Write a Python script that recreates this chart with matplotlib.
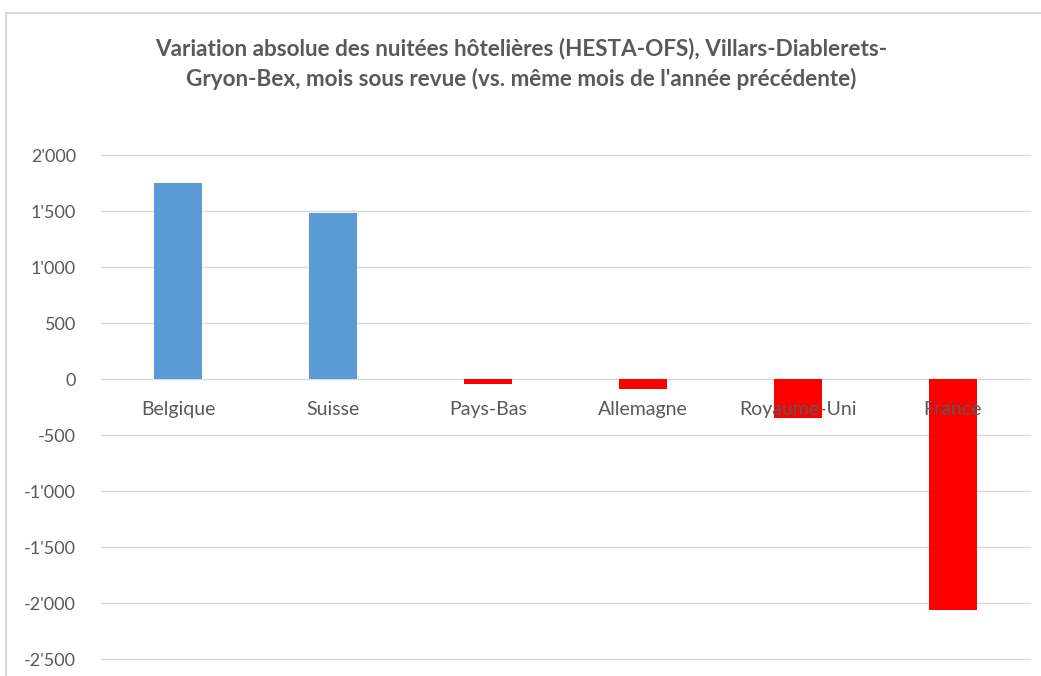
import matplotlib.pyplot as plt
import matplotlib.patches as plp
from matplotlib.ticker import FuncFormatter, MultipleLocator

# data
countries = ['Belgique', 'Suisse', 'Pays-Bas', 'Allemagne', 'Royaume-Uni', 'France']
variation = [1750, 1482, -45, -89, -348, -2062]

title = ("Variation absolue des nuitées hôtelières (HESTA-OFS), Villars-Diablerets-\n"
         "Gryon-Bex, mois sous revue (vs. même mois de l'année précédente)")

W, H = 1041, 676
fig = plt.figure(figsize=(W / 100, H / 100), dpi=100)
ax = fig.add_axes([101 / W, (H - 659) / H, (1030 - 101) / W, (659 - 155) / H])

colors = ['#5B9BD5' if v >= 0 else '#FF0000' for v in variation]
x = range(len(countries))
ax.bar(x, variation, width=0.31, color=colors, zorder=2)

ax.set_xlim(-0.5, len(countries) - 0.5)
ax.set_ylim(-2500, 2000)
ax.yaxis.set_major_locator(MultipleLocator(500))
ax.yaxis.set_major_formatter(FuncFormatter(lambda v, p: f"{v:,.0f}".replace(',', "'")))
ax.grid(axis='y', color='#D9D9D9', lw=1, zorder=0)
ax.set_axisbelow(True)
for gl in ax.get_ygridlines():
	gl.set_clip_on(False)

for s in ax.spines.values():
	s.set_visible(False)
ax.spines['bottom'].set_position(('data', 0))

ax.set_xticks(list(x))
ax.set_xticklabels(countries)
ax.tick_params(axis='both', length=0, colors='#595959')
ax.tick_params(axis='x', pad=16, labelsize=14)
ax.tick_params(axis='y', pad=18, labelsize=13)
for lbl in ax.get_xticklabels() + ax.get_yticklabels():
	lbl.set_family(['Lato', 'DejaVu Sans'])
	lbl.set_zorder(5)
ax.xaxis.set_zorder(5)

fig.text(521 / W, 1 - 64 / H, title, ha='center', va='center', fontsize=16.2, fontweight='bold',
         color='#595959', family=['Lato', 'DejaVu Sans'], linespacing=1.45)

# chart area border
fig.patches.append(plp.Rectangle((6 / W, -0.1), 1.1, (H - 13) / H + 0.1, transform=fig.transFigure,
                                 fill=False, edgecolor='#D9D9D9', lw=1.5))

fig.savefig('out.png', dpi=100, facecolor='white')
